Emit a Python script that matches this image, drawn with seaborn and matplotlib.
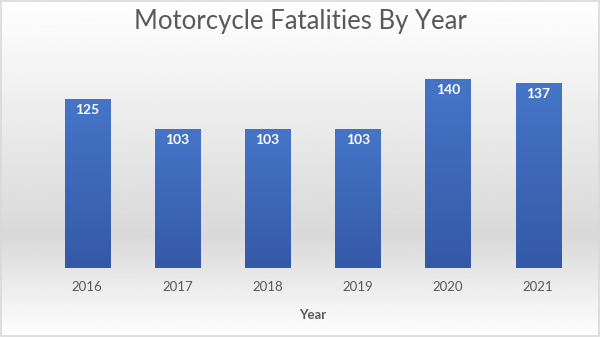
import numpy as np
import pandas as pd
import matplotlib
matplotlib.use("Agg")
import matplotlib.pyplot as plt
import seaborn as sns
from matplotlib.colors import LinearSegmentedColormap

years = ["2016", "2017", "2018", "2019", "2020", "2021"]
fatalities = [125, 103, 103, 103, 140, 137]
title = "Motorcycle Fatalities By Year"
xlabel = "Year"

df = pd.DataFrame({"Year": years, "Fatalities": fatalities})

sns.set_theme(style="white")
plt.rcParams['font.family'] = ['Lato', 'DejaVu Sans']

fig = plt.figure(figsize=(6.0, 3.37), dpi=100)

# background gradient
bg = fig.add_axes([0, 0, 1, 1], zorder=-10)
ys = np.linspace(0, 1, 400)
stops_y = [0.0, 0.70, 1.0]
stops_v = [1.0, 0.85, 1.0]
vals = np.interp(ys, stops_y, stops_v)
img = np.repeat(vals[:, None], 2, axis=1)
bg.imshow(img, aspect='auto', cmap='gray', vmin=0, vmax=1, extent=[0, 1, 1, 0])
bg.set_axis_off()
bg.add_patch(plt.Rectangle((0.001, 0.002), 0.997, 0.995, fill=False,
                           edgecolor='#d9d9d9', linewidth=1.2, transform=bg.transAxes))

ax = fig.add_axes([0.07, 0.2047, 0.902, 0.641])
ax.patch.set_alpha(0)
sns.barplot(data=df, x="Year", y="Fatalities", ax=ax, color="#4472c4",
            width=0.5, saturation=1)
ax.set_ylim(0, 160)

cmap = LinearSegmentedColormap.from_list("bar", ["#3459a6", "#4675c8"])
grad = np.linspace(0, 1, 256)[:, None]
for p in ax.patches:
    x0, y0 = p.get_x(), p.get_y()
    w, h = p.get_width(), p.get_height()
    p.set_edgecolor("#6d8fd0")
    p.set_linewidth(0.6)
    im = ax.imshow(grad, aspect='auto', cmap=cmap, origin='lower',
                   extent=[x0, x0 + w, y0, y0 + h], zorder=p.get_zorder() + 0.1)
    im.set_clip_path(p)
    ax.text(x0 + w / 2, y0 + h - 3.5, f"{int(round(h))}", ha='center', va='top',
            color='white', fontsize=10, fontweight='bold', zorder=5)

ax.set_xlim(-0.5, len(years) - 0.5)
ax.set_yticks([])
ax.set_ylabel("")
ax.set_xlabel(xlabel, fontsize=9.5, fontweight='bold', color='#595959', labelpad=12)
ax.tick_params(axis='x', length=0, labelsize=9.5, labelcolor='#595959', pad=9)
for s in ax.spines.values():
    s.set_visible(False)

fig.text(0.5, 0.935, title, ha='center', va='center', fontsize=18.5, color='#595959')

fig.savefig("out.png", dpi=100)
